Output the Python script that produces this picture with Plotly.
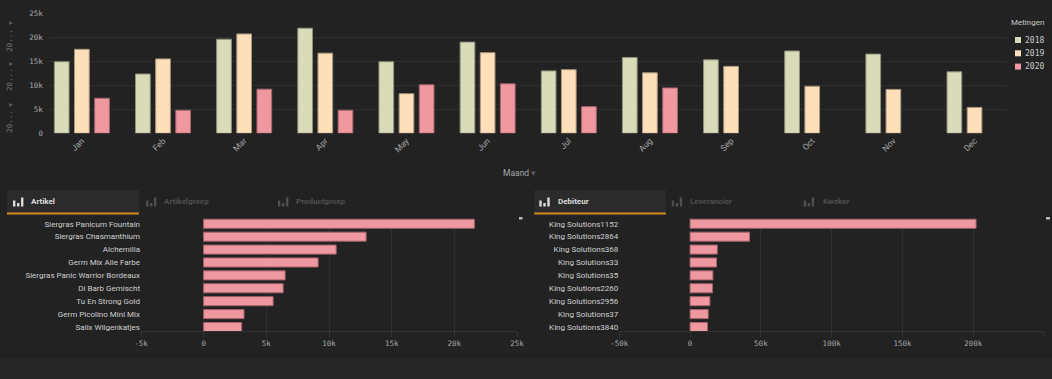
import plotly.graph_objects as go

W, H = 1052, 379
BG = "#222222"

# ---------------- data ----------------
months = ["Jan", "Feb", "Mar", "Apr", "May", "Jun", "Jul", "Aug", "Sep", "Oct", "Nov", "Dec"]
years = ["2018", "2019", "2020"]
v2018 = [14900, 12350, 19600, 21900, 14900, 19000, 13000, 15800, 15300, 17150, 16500, 12800]
v2019 = [17500, 15500, 20700, 16700, 8250, 16800, 13250, 12600, 13950, 9800, 9150, 5400]
v2020 = [7300, 4800, 9200, 4800, 10100, 10300, 5550, 9450, None, None, None, None]
year_values = [v2018, v2019, v2020]
year_colors = ["#d9dbb9", "#fddfba", "#ef98a0"]
year_edges = ["#8f917c", "#a8957a", "#a8646b"]

top_ticks = [0, 5000, 10000, 15000, 20000, 25000]
top_ticktext = ["0", "5k", "10k", "15k", "20k", "25k"]

artikel = ["Siergras Panicum Fountain", "Siergras Chasmanthium", "Alchemilla",
           "Germ Mix Alle Farbe", "Siergras Panic Warrior Bordeaux", "Di Barb Gemischt",
           "Tu En Strong Gold", "Germ Picolino Mini Mix", "Salix Wilgenkatjes"]
artikel_vals = [21600, 12960, 10570, 9130, 6500, 6340, 5540, 3220, 3030]
left_ticks = [-5000, 0, 5000, 10000, 15000, 20000, 25000]
left_ticktext = ["-5k", "0", "5k", "10k", "15k", "20k", "25k"]

debiteur = ["King Solutions1152", "King Solutions2864", "King Solutions368",
            "King Solutions33", "King Solutions35", "King Solutions2260",
            "King Solutions2956", "King Solutions37", "King Solutions3840"]
debiteur_vals = [202000, 42000, 19200, 18700, 16100, 15800, 14000, 12800, 12300]
right_ticks = [-50000, 0, 50000, 100000, 150000, 200000, 250000]
right_ticktext = ["-50k", "0", "50k", "100k", "150k", "200k", "250k"]

left_tabs = ["Artikel", "Artikelgroep", "Productgroep"]
right_tabs = ["Debiteur", "Leverancier", "Kweker"]
legend_title = "Metingen"
axis_title = "Maand"

# ---------------- helpers ----------------
def px(x):
    return x / W

def py(y):
    return 1 - y / H

MONO = "DejaVu Sans Mono, Liberation Mono, monospace"
SANS = "Roboto, Arial, sans-serif"
TICK_COL = "#a6a6a6"
GRID = "#2f2f2f"

fig = go.Figure()

# ---------------- top grouped bar chart ----------------
for name, vals, col, edge in zip(years, year_values, year_colors, year_edges):
    fig.add_trace(go.Bar(
        x=months, y=vals, name=name, xaxis="x", yaxis="y",
        marker=dict(color=col, line=dict(color=edge, width=1)),
        showlegend=False, hoverinfo="skip"))

# ---------------- bottom-left bar chart ----------------
fig.add_trace(go.Bar(
    x=artikel_vals, y=artikel, orientation="h", xaxis="x2", yaxis="y2",
    width=0.7, marker=dict(color="#ef98a0", line=dict(color="#a8646b", width=1)),
    showlegend=False, hoverinfo="skip"))

# ---------------- bottom-right bar chart ----------------
fig.add_trace(go.Bar(
    x=debiteur_vals, y=debiteur, orientation="h", xaxis="x3", yaxis="y3",
    width=0.7, marker=dict(color="#ef98a0", line=dict(color="#a8646b", width=1)),
    showlegend=False, hoverinfo="skip"))

row_top, row_bot = 217.3, 331

fig.update_layout(
    template="none",
    width=W, height=H, autosize=False,
    margin=dict(l=0, r=0, t=0, b=0),
    paper_bgcolor=BG, plot_bgcolor=BG,
    barmode="group", bargap=0.255, bargroupgap=0.27,
    showlegend=False,
    font=dict(family=SANS, color=TICK_COL),
    xaxis=dict(domain=[px(49.4), px(1007)], type="category", range=[-0.4, 11.4],
               showgrid=False, zeroline=False, showline=False, ticks="",
               tickangle=-45, tickfont=dict(family=SANS, size=8.5, color=TICK_COL),
               automargin=False, fixedrange=True),
    yaxis=dict(domain=[py(133.3), py(13.3)], range=[0, 25000],
               tickvals=top_ticks, ticktext=top_ticktext,
               showgrid=True, gridcolor=GRID, gridwidth=1, zeroline=False,
               showline=False, ticks="outside", ticklen=4, tickcolor="rgba(0,0,0,0)",
               tickfont=dict(family=MONO, size=7.5, color=TICK_COL),
               automargin=False, fixedrange=True),
    xaxis2=dict(domain=[px(141), px(517)], anchor="y2", range=[-5000, 25000],
                tickvals=left_ticks, ticktext=left_ticktext,
                showgrid=True, gridcolor=GRID, zeroline=False,
                showline=True, linecolor="#333333", ticks="outside", ticklen=5,
                tickcolor="#363636", tickfont=dict(family=MONO, size=7.5, color=TICK_COL),
                automargin=False, fixedrange=True),
    yaxis2=dict(domain=[py(row_bot), py(row_top)], anchor="x2", type="category",
                categoryarray=artikel, categoryorder="array", range=[8.31, -0.5],
                showgrid=False, zeroline=False, showline=False, ticks="",
                tickfont=dict(family=SANS, size=8, color="#cfcfcf"),
                automargin=False, fixedrange=True),
    xaxis3=dict(domain=[px(619.3), px(1044)], anchor="y3", range=[-50000, 250000],
                tickvals=right_ticks, ticktext=right_ticktext,
                showgrid=True, gridcolor=GRID, zeroline=False,
                showline=True, linecolor="#333333", ticks="outside", ticklen=5,
                tickcolor="#363636", tickfont=dict(family=MONO, size=7.5, color=TICK_COL),
                automargin=False, fixedrange=True),
    yaxis3=dict(domain=[py(row_bot), py(row_top)], anchor="x3", type="category",
                categoryarray=debiteur, categoryorder="array", range=[8.31, -0.5],
                showgrid=False, zeroline=False, showline=False, ticks="",
                tickfont=dict(family=SANS, size=8, color="#cfcfcf"),
                automargin=False, fixedrange=True),
)

shapes = []
annotations = []

def rect(x0, y0, x1, y1, color, layer="above"):
    shapes.append(dict(type="rect", xref="paper", yref="paper",
                       x0=px(x0), x1=px(x1), y0=py(y1), y1=py(y0),
                       fillcolor=color, line=dict(width=0), layer=layer))

def text(x, y, s, size, color, family=SANS, xanchor="left", angle=0):
    annotations.append(dict(xref="paper", yref="paper", x=px(x), y=py(y), text=s,
                            showarrow=False, xanchor=xanchor, yanchor="middle",
                            textangle=angle, font=dict(family=family, size=size, color=color)))

# bottom strip
rect(0, 358, W, H, "#262626", layer="below")

# left dimension labels of top chart
for yy in [23, 63, 104]:
    text(11, yy, "▸", 8, "#555555", xanchor="center")
for yy in [40.7, 80, 121.7]:
    text(10, yy, "20...", 7.5, "#7a7a7a", family=MONO, xanchor="center", angle=-90)

# legend (manual)
text(1009, 23, legend_title, 8, "#c8c8c8")
for i, (name, col) in enumerate(zip(years, year_colors)):
    yc = 40 + i * 13.3
    rect(1015, yc - 3, 1021, yc + 3, col)
    text(1022.5, yc, name, 8, "#c8c8c8", family=MONO)

# x axis title
text(519, 173.3, axis_title + " <span style='color:#5e5e5e'>▾</span>", 8.5, "#a6a6a6", xanchor="center")

# tabs
def icon(x, ytop, color):
    base = ytop + 9
    for dx, h in [(0, 6), (4, 3.5), (8, 9)]:
        rect(x + dx, base - h, x + dx + 2.4, base, color)

def tabs(names, x_active0, x_active1, icon_xs, text_xs):
    rect(x_active0, 190, x_active1, 213, "#2b2b2b", layer="below")
    rect(x_active0, 212.6, x_active1, 214.4, "#d18a22")
    for i, (name, ix, tx) in enumerate(zip(names, icon_xs, text_xs)):
        col = "#dcdcdc" if i == 0 else "#4f4f4f"
        icon(ix, 197.5, col)
        s = "<b>" + name + "</b>"
        text(tx, 201.5, s, 8, col)

tabs(left_tabs, 7, 139, [13, 146, 278], [28.5, 161.5, 293.5])
tabs(right_tabs, 534.3, 665.9, [539.3, 671.7, 803.7], [555.5, 688, 820.5])

# scroll markers
rect(519, 217, 522.5, 219.5, "#bdbdbd")
rect(1046, 217, 1050, 219.5, "#bdbdbd")

fig.update_layout(shapes=shapes, annotations=annotations)

fig.write_html(
    "out.html",
    config={"displayModeBar": False, "staticPlot": True},
    post_script="document.body.style.margin='0';document.body.style.overflow='hidden';document.body.style.background='#222222';",
)
